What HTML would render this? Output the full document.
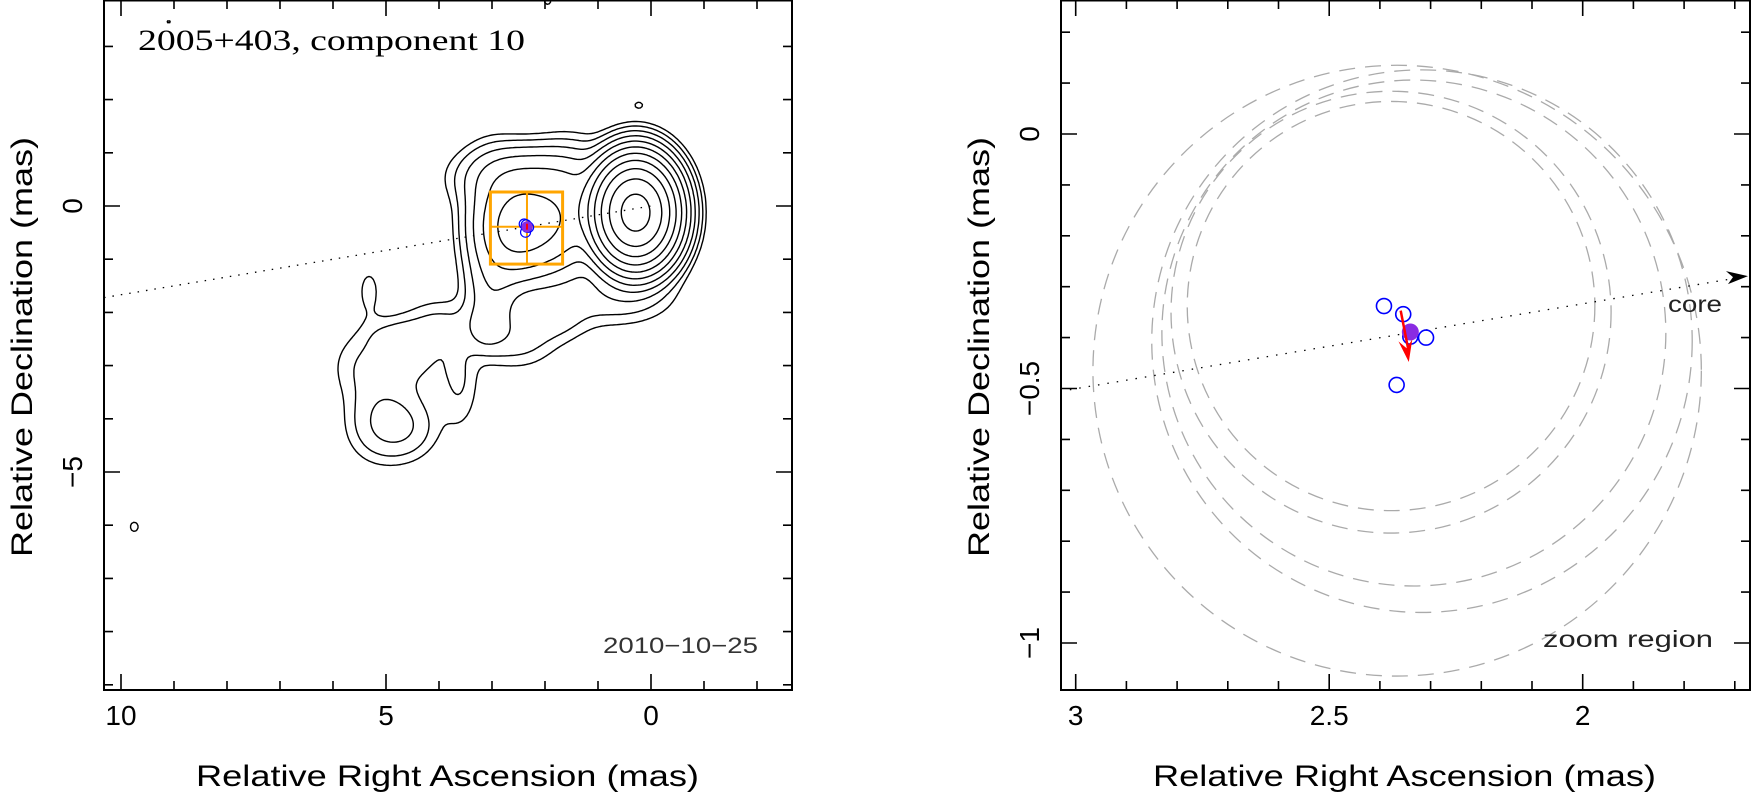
<!DOCTYPE html>
<html><head><meta charset="utf-8">
<style>
html,body{margin:0;padding:0;background:#fff;}
svg{display:block;}
text{font-family:"Liberation Sans",sans-serif;fill:#000;}
</style></head>
<body>
<svg id="fig" width="1751" height="809" viewBox="0 0 1751 809" xmlns="http://www.w3.org/2000/svg">
<defs>
<clipPath id="clipL"><rect x="104" y="0" width="688" height="690"/></clipPath>
<clipPath id="clipR"><rect x="1061" y="0" width="690" height="690"/></clipPath>
</defs>
<g id="left"></g>
<g id="right"></g>
</svg>
<script>
// ---------- data ----------
// Gaussian model components: ra, dec (mas), peak, sigma-ra, sigma-dec
const compRa   = [0.29, 2.55, 2.0, 3.0, 2.3, 1.5, 0.7, 3.0, 3.15, 5.4, 5.05, 4.8, 4.55, 5.2, 4.4, 3.62, 4.8, 4.0, 2.5, 1.8, 5.32, 9.75, 0.23, 1.95, 9.1];
const compDec  = [-0.125, -0.4, -0.35, -0.3, 0.55, -0.1, -1.7, -1.6, -2.3, -3.0, -3.7, -4.2, -4.15, -4.2, -2.9, -3.3, -2.45, -2.2, -2.5, -2.1, -1.6, -6.03, 1.9, 3.85, 3.46];
const compPeak = [1380, 36, 22, 7, 11, 15, 3, 5, 3, 1.9, 1.9, 1.9, 1.9, 1.9, 2.0, 2.0, 2, 2, 2.6, 2.3, 1.3, 1.3, 1.1, 1.2, 1.05];
const compSx   = [0.35, 0.37, 0.37, 0.35, 0.7, 0.4, 0.7, 0.3, 0.25, 0.42, 0.42, 0.38, 0.38, 0.38, 0.42, 0.25, 0.4, 0.4, 0.45, 0.4, 0.18, 0.1, 0.13, 0.1, 0.1];
const compSy   = [0.45, 0.52, 0.52, 0.7, 0.34, 0.6, 0.35, 0.55, 0.3, 0.42, 0.42, 0.38, 0.38, 0.42, 0.42, 0.6, 0.25, 0.3, 0.35, 0.3, 0.38, 0.12, 0.1, 0.1, 0.1];
const contourLevels = [1, 2, 4, 8, 16, 32, 64, 128, 256, 512, 1024];
const epochRa  = [2.392, 2.354, 2.309, 2.340, 2.367];
const epochDec = [-0.338, -0.354, -0.400, -0.398, -0.493];
const meanRa = 2.340, meanDec = -0.389;
const velRa = [2.359, 2.343], velDec = [-0.347, -0.448];
const circRa  = [2.366, 2.317, 2.333, 2.378, 2.378];
const circDec = [-0.465, -0.407, -0.391, -0.350, -0.338];
const circR   = [0.600, 0.533, 0.497, 0.434, 0.402];
const zoomRa = [3.03, 1.668], zoomDec = [0.263, -1.092];
const jetSlope = -0.1668;
const lxMajor = [10, 5, 0], lyMajor = [0, -5];
const rxMajor = [3, 2.5, 2], ryMajor = [0, -0.5, -1];

// ---------- axes ----------
const L = {x0:104, x1:792, y0:0, y1:690, sx:53, sy:53.2, ox:651, oy:206};
const R = {x0:1061, x1:1750, y0:0, y1:690, sx:507, sy:509, ox:1075.7+3*507, oy:134};
const X = (P, ra) => P.ox - P.sx*ra;
const Y = (P, dec) => P.oy - P.sy*dec;
const NS = "http://www.w3.org/2000/svg";
function el(parent, tag, attrs, text){
  const e = document.createElementNS(NS, tag);
  for (const k in attrs) e.setAttribute(k, attrs[k]);
  if (text !== undefined) e.textContent = text;
  parent.appendChild(e); return e;
}
const gL = document.getElementById('left'), gR = document.getElementById('right');
const fmt = v => String(v).replace('-','\u2212');

function frame(g, P, minorX, minorY, majX, majY, xLab, yLab){
  const f = el(g,'rect',{x:P.x0,y:P.y0+0.5,width:P.x1-P.x0,height:P.y1-P.y0-0.5,fill:'none',stroke:'#000','stroke-width':2});
   
  let d='';
  const raMin=(P.ox-P.x1)/P.sx, raMax=(P.ox-P.x0)/P.sx;
  for (let k=Math.ceil(raMin/minorX-1e-6); k*minorX<=raMax+1e-9; k++){
    const v=k*minorX;
    const x=X(P,v); const maj=majX.some(m=>Math.abs(m-v)<1e-6); const len=maj?16:9;
    d+=`M${x},${P.y1}v${-len}M${x},${P.y0}v${len}`;
  }
  const dMin=(P.oy-P.y1)/P.sy, dMax=(P.oy-P.y0)/P.sy;
  for (let k=Math.ceil(dMin/minorY-1e-6); k*minorY<=dMax+1e-9; k++){
    const v=k*minorY;
    const y=Y(P,v); const maj=majY.some(m=>Math.abs(m-v)<1e-6); const len=maj?16:9;
    d+=`M${P.x0},${y}h${len}M${P.x1},${y}h${-len}`;
  }
  const t=el(g,'path',{d:d,stroke:'#000','stroke-width':1.6,fill:'none'});
   
  majX.forEach(v=>{
    const tx=el(g,'text',{x:X(P,v),y:725,'font-size':28,'text-anchor':'middle'},fmt(v));
     
  });
  majY.forEach(v=>{
    const yy=Y(P,v), xx=P.x0-22;
    const ty=el(g,'text',{x:xx,y:yy,'font-size':28,'text-anchor':'middle',transform:`rotate(-90 ${xx} ${yy})`},fmt(v));
     
  });
  const xl=el(g,'text',{x:xLab[0],y:xLab[1],'font-size':30,textLength:xLab[2],lengthAdjust:'spacingAndGlyphs'},'Relative Right Ascension (mas)');
   
  const yl=el(g,'text',{x:0,y:0,'font-size':30,textLength:420,lengthAdjust:'spacingAndGlyphs',transform:`translate(${yLab[0]},${yLab[1]}) rotate(-90)`},'Relative Declination (mas)');
   
}
frame(gL, L, 1, 1, lxMajor, lyMajor, [196,786,503], [32,557]);
frame(gR, R, 0.1, 0.1, rxMajor, ryMajor, [1153,786,503], [989,557]);

// ---------- contour map (left) ----------
function model(ra, dec){
  let s=0;
  for (let i=0;i<compRa.length;i++){
    const a=(ra-compRa[i])/compSx[i], b=(dec-compDec[i])/compSy[i];
    const q=a*a+b*b; if (q<40) s+=compPeak[i]*Math.exp(-0.5*q);
  }
  return s;
}
const step=0.04;
const raHi=10.4, raLo=-2.8, decHi=3.95, decLo=-9.15;
const nx=Math.round((raHi-raLo)/step)+1, ny=Math.round((decHi-decLo)/step)+1;
const grid=new Float32Array(nx*ny);
for (let j=0;j<ny;j++) for (let i=0;i<nx;i++) grid[j*nx+i]=model(raHi-i*step, decHi-j*step);
const gC=el(gL,'g',{'clip-path':'url(#clipL)'});
 
contourLevels.forEach(lev=>{
  let d='';
  const px=(i)=>X(L,raHi-i*step), py=(j)=>Y(L,decHi-j*step);
  for (let j=0;j<ny-1;j++) for (let i=0;i<nx-1;i++){
    const a=grid[j*nx+i], b=grid[j*nx+i+1], c=grid[(j+1)*nx+i+1], e=grid[(j+1)*nx+i];
    const idx=(a>lev?8:0)|(b>lev?4:0)|(c>lev?2:0)|(e>lev?1:0);
    if (idx===0||idx===15) continue;
    const T=()=>[px(i+(lev-a)/(b-a)), py(j)];
    const Rr=()=>[px(i+1), py(j+(lev-b)/(c-b))];
    const B=()=>[px(i+(lev-e)/(c-e)), py(j+1)];
    const Lf=()=>[px(i), py(j+(lev-a)/(e-a))];
    const seg=(p,q)=>{d+=`M${p[0].toFixed(1)},${p[1].toFixed(1)}L${q[0].toFixed(1)},${q[1].toFixed(1)}`;};
    switch(idx){
      case 1: case 14: seg(Lf(),B()); break;
      case 2: case 13: seg(B(),Rr()); break;
      case 3: case 12: seg(Lf(),Rr()); break;
      case 4: case 11: seg(T(),Rr()); break;
      case 5: seg(Lf(),T()); seg(B(),Rr()); break;
      case 6: case 9: seg(T(),B()); break;
      case 7: case 8: seg(Lf(),T()); break;
      case 10: seg(T(),Rr()); seg(Lf(),B()); break;
    }
  }
  const p=el(gC,'path',{d:d,fill:'none',stroke:'#000','stroke-width':1.4,'stroke-linecap':'round'});
   
});

const jl=el(gL,'line',{x1:X(L,10.32),y1:Y(L,10.32*jetSlope),x2:X(L,0),y2:Y(L,0),stroke:'#000','stroke-width':1.3,'stroke-dasharray':'1.5 7'});
 

const zx0=X(L,zoomRa[0]), zx1=X(L,zoomRa[1]), zy0=Y(L,zoomDec[0]), zy1=Y(L,zoomDec[1]);
const zb=el(gL,'rect',{x:zx0,y:zy0,width:zx1-zx0,height:zy1-zy0,fill:'none',stroke:'#ffa500','stroke-width':3});
 
const zc=el(gL,'path',{d:`M${zx0},${Y(L,meanDec)}H${zx1}M${X(L,meanRa)},${zy0}V${zy1}`,stroke:'#ffa500','stroke-width':2});
 
epochRa.forEach((ra,k)=>{
  const c=el(gL,'circle',{cx:X(L,ra),cy:Y(L,epochDec[k]),r:5,fill:'none',stroke:'#0000ff','stroke-width':1.2});
   
});
const mL=el(gL,'circle',{cx:X(L,meanRa),cy:Y(L,meanDec),r:5.5,fill:'#8a2be2'});
 
const vL=el(gL,'line',{x1:X(L,meanRa),y1:Y(L,meanDec)-3,x2:X(L,meanRa),y2:Y(L,meanDec)+3,stroke:'#ff0000','stroke-width':2});
 

const title=el(gL,'text',{x:138,y:50,'font-size':30,textLength:387,lengthAdjust:'spacingAndGlyphs',style:'font-family:"Liberation Serif",serif'},'2005+403, component 10');
 
const date=el(gL,'text',{x:603,y:653,'font-size':22,textLength:155,lengthAdjust:'spacingAndGlyphs',style:'fill:#333'},'2010\u221210\u221225');
 

// ---------- zoom panel (right) ----------
const gRc=el(gR,'g',{'clip-path':'url(#clipR)'});
 
circR.forEach((r,k)=>{
  const c=el(gRc,'ellipse',{cx:X(R,circRa[k]),cy:Y(R,circDec[k]),rx:r*R.sx,ry:r*R.sy,fill:'none',stroke:'#aaa','stroke-width':1.3,'stroke-dasharray':'16 10'});
   
});
const jr=el(gRc,'line',{x1:X(R,3.03),y1:Y(R,3.03*jetSlope),x2:X(R,1.69),y2:Y(R,1.69*jetSlope),stroke:'#000','stroke-width':1.3,'stroke-dasharray':'1.5 8'});
 
const ax=X(R,1.674), ay=Y(R,1.674*jetSlope);
const ah=el(gR,'path',{d:`M${ax},${ay} L${ax-22},${ay-5} L${ax-15},${ay+1} L${ax-20},${ay+8} Z`,fill:'#000'});
 
epochRa.forEach((ra,k)=>{
  const c=el(gRc,'circle',{cx:X(R,ra),cy:Y(R,epochDec[k]),r:7.5,fill:'none',stroke:'#0000ff','stroke-width':1.6});
   
});
const mR=el(gRc,'circle',{cx:X(R,meanRa),cy:Y(R,meanDec),r:8.5,fill:'#8a2be2'});
 
const vx1=X(R,velRa[0]), vy1=Y(R,velDec[0]), vx2=X(R,velRa[1]), vy2=Y(R,velDec[1]);
const vR=el(gRc,'line',{x1:vx1,y1:vy1,x2:vx2,y2:vy2-10,stroke:'#ff0000','stroke-width':2.5});
 
const ang=Math.atan2(vy2-vy1,vx2-vx1);
const hx=(l,w)=>[vx2-l*Math.cos(ang)+w*Math.sin(ang), vy2-l*Math.sin(ang)-w*Math.cos(ang)];
const p1=hx(22,7), p2=hx(14,0), p3=hx(22,-7);
const vh=el(gRc,'path',{d:`M${vx2},${vy2}L${p1[0]},${p1[1]}L${p2[0]},${p2[1]}L${p3[0]},${p3[1]}Z`,fill:'#ff0000'});
 
const cl=el(gR,'text',{x:1668,y:312,'font-size':23,textLength:54,lengthAdjust:'spacingAndGlyphs',style:'fill:#222'},'core');
 
const zl=el(gR,'text',{x:1543,y:647,'font-size':23,textLength:170,lengthAdjust:'spacingAndGlyphs',style:'fill:#222'},'zoom region');
 
</script>
</body></html>
